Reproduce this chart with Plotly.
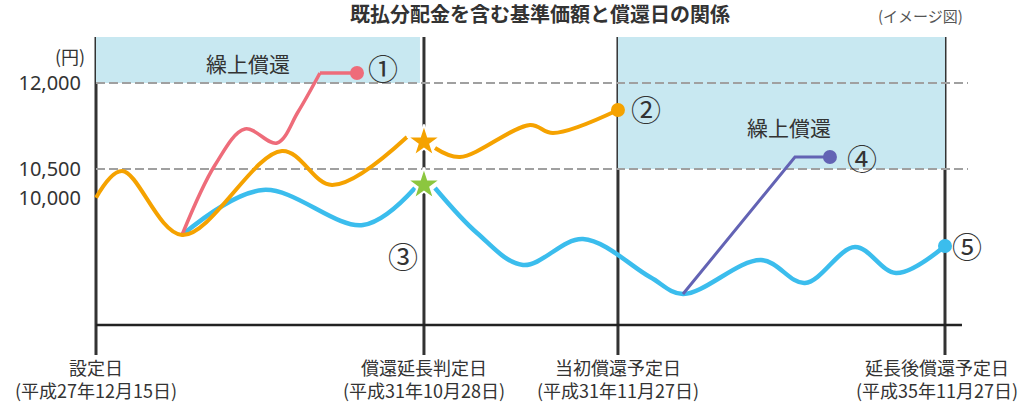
import plotly.graph_objects as go

# ---------------- data (schematic units: 設定日 = 0, 延長後償還予定日 = 100) ----------------
event_x = [0, 38.63, 61.48, 100]
event_names = ["設定日", "償還延長判定日", "当初償還予定日", "延長後償還予定日"]
event_dates = ["(平成27年12月15日)", "(平成31年10月28日)", "(平成31年11月27日)", "(平成35年11月27日)"]

ytick_vals = [10000, 10500, 12000]
ytick_text = ["10,000", "10,500", "12,000"]

orange_pre_x = [0, 3.06, 10.13, 21.91, 27.80, 36.63]
orange_pre_y = [10000, 10465, 9349, 10814, 10221, 11058]
orange_post_x = [39.93, 42.87, 51.12, 53.83, 61.48]
orange_post_y = [10866, 10709, 11267, 11128, 11529]

pink_x = [10.13, 14.02, 17.55, 21.32, 23.79, 26.38]
pink_y = [9349, 10570, 11198, 10954, 11494, 12174]
pink_flat_x = [26.38, 30.74]
pink_flat_y = [12174, 12174]

blue_pre_x = [10.13, 19.67, 31.45, 37.57]
blue_pre_y = [9349, 10134, 9523, 10169]
blue_post_x = [39.93, 44.88, 50.29, 57.36, 65.25, 69.14, 78.33, 83.51, 89.40, 94.23, 100]
blue_post_y = [10169, 9384, 8826, 9279, 8616, 8320, 8913, 8512, 9140, 8686, 9157]

purple_x = [69.14, 82.33, 86.45]
purple_y = [8320, 10709, 10709]

star_x = [38.63]
star_orange_y = [10971]
star_green_y = [10221]

early_redemption_level = [12000, 10500]   # 繰上償還 thresholds
axis_level = 7779
y_range = [7256, 12802]
x_range = [-0.942, 102.71]

# ---------------- style ----------------
ORANGE = "#F5A200"
PINK = "#EE6C7A"
BLUE = "#3BBDED"
PURPLE = "#6363B4"
GREEN = "#8CC63F"
SHADE = "#C8E8F1"
DARK = "#333333"
GRID = "#A0A0A0"
FONT = "Noto Sans CJK JP"

fig = go.Figure()

def line(x, y, color, width, shape="spline"):
    fig.add_trace(go.Scatter(x=x, y=y, mode="lines", line=dict(color=color, width=width, shape=shape, smoothing=1.0),
                             hoverinfo="skip"))

line(blue_pre_x, blue_pre_y, BLUE, 4.5)
line(blue_post_x, blue_post_y, BLUE, 4.5)
line(purple_x, purple_y, PURPLE, 3, shape="linear")
line(pink_x, pink_y, PINK, 3.5)
line(pink_flat_x, pink_flat_y, PINK, 3.5, shape="linear")
line(orange_pre_x, orange_pre_y, ORANGE, 4)
line(orange_post_x, orange_post_y, ORANGE, 4)

# end-point markers
def dot(x, y, color, size=14):
    fig.add_trace(go.Scatter(x=[x], y=[y], mode="markers", marker=dict(color=color, size=size), hoverinfo="skip"))

dot(pink_flat_x[-1], pink_flat_y[-1], PINK)
dot(orange_post_x[-1], orange_post_y[-1], ORANGE)
dot(purple_x[-1], purple_y[-1], PURPLE)
dot(blue_post_x[-1], blue_post_y[-1], BLUE)

# stars
for ys, c in [(star_orange_y, ORANGE), (star_green_y, GREEN)]:
    fig.add_trace(go.Scatter(x=star_x, y=ys, mode="markers",
                             marker=dict(symbol="star", size=25, color=c, line=dict(color="white", width=2)),
                             hoverinfo="skip"))

shapes = []
# shaded early-redemption zones
shapes.append(dict(type="rect", xref="x", yref="y", x0=event_x[0], x1=38.16, y0=early_redemption_level[0],
                   y1=y_range[1], fillcolor=SHADE, line=dict(width=0), layer="below"))
shapes.append(dict(type="rect", xref="x", yref="y", x0=event_x[2], x1=event_x[3], y0=early_redemption_level[1],
                   y1=y_range[1], fillcolor=SHADE, line=dict(width=0), layer="below"))
# dashed guide lines
for lv in early_redemption_level:
    shapes.append(dict(type="line", xref="x", yref="y", x0=event_x[0], x1=x_range[1], y0=lv, y1=lv,
                       line=dict(color=GRID, width=2, dash="9px,4px"), layer="below"))
# vertical date lines
for ex in event_x:
    shapes.append(dict(type="line", xref="x", yref="paper", x0=ex, x1=ex, y0=0, y1=1,
                       line=dict(color=DARK, width=3), layer="below"))
# horizontal base axis
shapes.append(dict(type="line", xref="x", yref="y", x0=event_x[0], x1=102.0, y0=axis_level, y1=axis_level,
                   line=dict(color="#222222", width=2.5), layer="below"))

ann = []
# bottom labels
shifts = [0, 0, 0, -8]
for ex, nm, dt, sh in zip(event_x, event_names, event_dates, shifts):
    ann.append(dict(x=ex, y=0, xref="x", yref="paper", text=nm + "<br>" + dt, showarrow=False,
                    xanchor="center", yanchor="middle", align="center", yshift=-23, xshift=sh,
                    font=dict(family=FONT, size=18, color=DARK)))
# circled numbers
circ = [("①", pink_flat_x[-1], pink_flat_y[-1], 26, 6),
        ("②", orange_post_x[-1], orange_post_y[-1], 28, 2),
        ("④", purple_x[-1], purple_y[-1], 32, 0),
        ("⑤", blue_post_x[-1], blue_post_y[-1], 22, 1)]
for t, x, y, xs, ys in circ:
    ann.append(dict(x=x, y=y, xref="x", yref="y", text=t, showarrow=False, xshift=xs, yshift=ys,
                    xanchor="center", yanchor="middle", font=dict(family=FONT, size=30, color=DARK)))
ann.append(dict(x=36.16, y=9000, xref="x", yref="y", text="③", showarrow=False, xanchor="center",
                yanchor="middle", font=dict(family=FONT, size=30, color=DARK)))
# 繰上償還 labels
ann.append(dict(x=17.9, y=12349, xref="x", yref="y", text="繰上償還", showarrow=False,
                font=dict(family=FONT, size=21, color=DARK)))
ann.append(dict(x=81.6, y=11232, xref="x", yref="y", text="繰上償還", showarrow=False,
                font=dict(family=FONT, size=21, color=DARK)))
# unit label
ann.append(dict(x=0, y=12471, xref="x", yref="y", text="(円)", showarrow=False, xanchor="right", xshift=-9,
                yanchor="middle", font=dict(family=FONT, size=18, color=DARK)))
# image note
ann.append(dict(x=(920 - 88) / 880, y=1 + (37 - 15) / 318, xref="paper", yref="paper", text="(イメージ図)",
                showarrow=False, xanchor="center", yanchor="middle",
                font=dict(family=FONT, size=15, color="#555555")))

fig.update_layout(
    width=1033, height=403,
    margin=dict(l=88, r=65, t=37, b=48, autoexpand=False),
    paper_bgcolor="white", plot_bgcolor="white",
    showlegend=False,
    title=dict(text="<b>既払分配金を含む基準価額と償還日の関係</b>", x=540 / 1033, y=1 - 15 / 403,
               xanchor="center", yanchor="middle", font=dict(family=FONT, size=20, color=DARK)),
    xaxis=dict(range=x_range, showgrid=False, zeroline=False, showticklabels=False, showline=False,
               fixedrange=True, automargin=False),
    yaxis=dict(range=y_range, showgrid=False, zeroline=False, showline=False, tickvals=ytick_vals,
               ticktext=ytick_text, ticks="", ticklabelstandoff=6, automargin=False,
               tickfont=dict(family="Noto Sans", size=20, color=DARK), fixedrange=True),
    shapes=shapes,
    annotations=ann,
)

fig.write_html("out.html", post_script="document.body.style.margin='0';",
               config={"displayModeBar": False})
